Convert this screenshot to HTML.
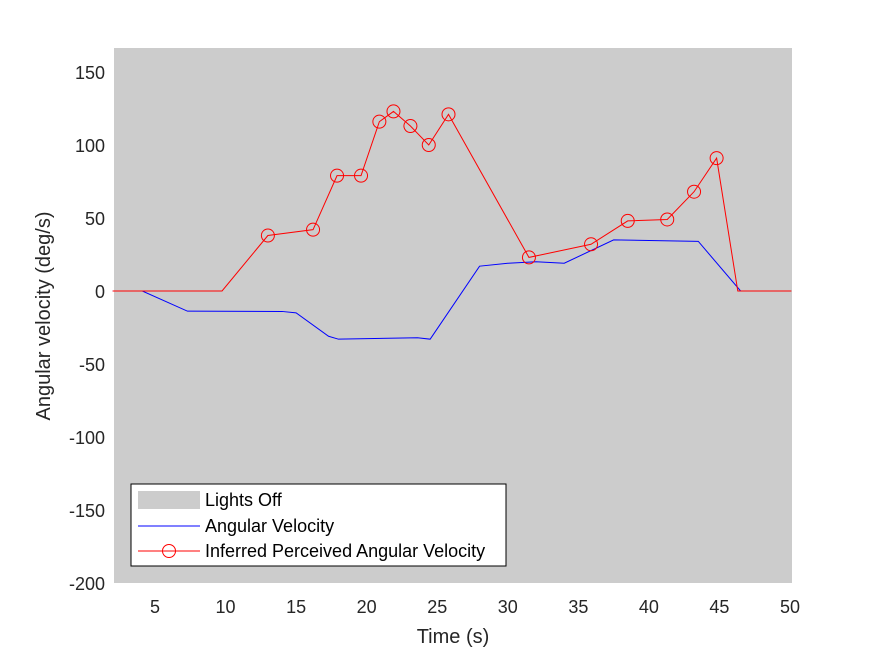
<!DOCTYPE html>
<html><head><meta charset="utf-8"><style>body{margin:0;background:#fff}svg{display:block;font-family:"Liberation Sans",sans-serif}</style></head>
<body>
<svg id="chart" width="875" height="656" xmlns="http://www.w3.org/2000/svg">
<rect x="114" y="48" width="678" height="535" fill="#cccccc"/>
<g id="marks"></g>
<g id="axes"></g>
<text x="453" y="643" font-size="20" text-anchor="middle" fill="#262626">Time (s)</text>
<text transform="translate(50,316) rotate(-90)" font-size="20" text-anchor="middle" fill="#262626">Angular velocity (deg/s)</text>
<g>
<rect x="131" y="484" width="375" height="82" fill="#fff" stroke="#000" stroke-width="1"/>
<rect x="138" y="491" width="62" height="18" fill="#cccccc"/>
<text x="205" y="506" font-size="18" fill="#000">Lights Off</text>
<line x1="138" y1="526" x2="200" y2="526" stroke="#0000ff" stroke-width="1"/>
<text x="205" y="532" font-size="18" fill="#000">Angular Velocity</text>
<line x1="138" y1="551" x2="200" y2="551" stroke="#ff0000" stroke-width="1"/>
<circle cx="169" cy="551" r="6.5" fill="none" stroke="#ff0000"/>
<text x="205" y="557" font-size="18" fill="#000">Inferred Perceived Angular Velocity</text>
</g>
</svg>
<script>
const blueT = [2, 4.1, 7.3, 14, 15, 17.3, 18, 23.6, 24.5, 28, 30, 32, 34, 37.5, 43.5, 46.5, 48.2];
const blueV = [0, 0, -13.8, -14, -15, -31, -33, -32, -33, 17, 19, 20, 19, 35, 34, 0, 0];
const redT = [2, 9.75, 13, 16.2, 17.9, 19.6, 20.9, 21.9, 23.1, 24.4, 25.8, 31.5, 35.9, 38.5, 41.3, 43.2, 44.8, 46.3, 50.1];
const redV = [0, 0, 38, 42, 79, 79, 116, 123, 113, 100, 121, 23, 32, 48, 49, 68, 91, 0, 0];
const markerT = [13, 16.2, 17.9, 19.6, 20.9, 21.9, 23.1, 24.4, 25.8, 31.5, 35.9, 38.5, 41.3, 43.2, 44.8];
const markerV = [38, 42, 79, 79, 116, 123, 113, 100, 121, 23, 32, 48, 49, 68, 91];
const xTicks = [5, 10, 15, 20, 25, 30, 35, 40, 45, 50];
const yTicks = [-200, -150, -100, -50, 0, 50, 100, 150];
const NS = "http://www.w3.org/2000/svg";
const xs = t => 155 + (t - 5) * (635 / 45);
const ys = v => 291 - v * (292 / 200);
const marks = document.getElementById('marks');
const axes = document.getElementById('axes');
function poly(T, V, color, name) {
  const p = document.createElementNS(NS, 'polyline');
  p.setAttribute('points', T.map((t, i) => xs(t) + ',' + ys(V[i])).join(' '));
  p.setAttribute('fill', 'none'); p.setAttribute('stroke', color); p.setAttribute('stroke-width', '1');
  
  
  marks.appendChild(p);
}
poly(blueT, blueV, '#0000ff', 'angular-velocity-line');
poly(redT, redV, '#ff0000', 'perceived-velocity-line');
markerT.forEach((t, i) => {
  const c = document.createElementNS(NS, 'circle');
  c.setAttribute('cx', xs(t)); c.setAttribute('cy', ys(markerV[i])); c.setAttribute('r', 6.5);
  c.setAttribute('fill', 'none'); c.setAttribute('stroke', '#ff0000');
  
  
  marks.appendChild(c);
});
xTicks.forEach(t => {
  const e = document.createElementNS(NS, 'text');
  e.setAttribute('x', xs(t)); e.setAttribute('y', 613); e.setAttribute('font-size', '18');
  e.setAttribute('text-anchor', 'middle'); e.setAttribute('fill', '#262626');
  
  
  e.textContent = t; axes.appendChild(e);
});
yTicks.forEach(v => {
  const e = document.createElementNS(NS, 'text');
  e.setAttribute('x', 105); e.setAttribute('y', ys(v) + 7); e.setAttribute('font-size', '18');
  e.setAttribute('text-anchor', 'end'); e.setAttribute('fill', '#262626');
  
  
  e.textContent = v; axes.appendChild(e);
});
</script>
</body></html>
